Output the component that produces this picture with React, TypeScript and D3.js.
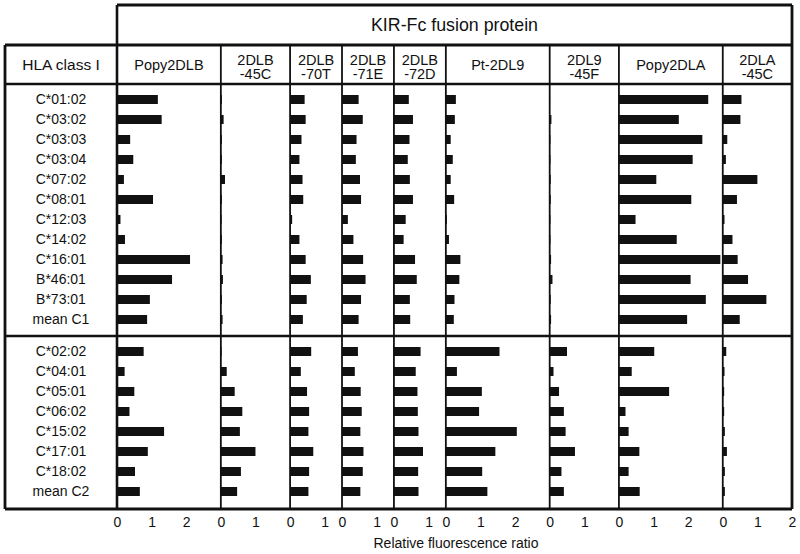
import { useEffect, useRef } from 'react';
import * as d3 from 'd3';

const panels = ['Popy2DLB', '2DLB\n-45C', '2DLB\n-70T', '2DLB\n-71E', '2DLB\n-72D', 'Pt-2DL9', '2DL9\n-45F', 'Popy2DLA', '2DLA\n-45C'];
const panelMax = [3, 2, 1.5, 1.5, 1.5, 3, 2, 3, 2];
const panelTicks = [[0, 1, 2], [0, 1], [0, 1], [0, 1], [0, 1], [0, 1, 2], [0, 1], [0, 1, 2], [0, 1, 2]];

const c1Labels = ['C*01:02', 'C*03:02', 'C*03:03', 'C*03:04', 'C*07:02', 'C*08:01', 'C*12:03', 'C*14:02', 'C*16:01', 'B*46:01', 'B*73:01', 'mean C1'];
const c2Labels = ['C*02:02', 'C*04:01', 'C*05:01', 'C*06:02', 'C*15:02', 'C*17:01', 'C*18:02', 'mean C2'];

// one array per panel, rows in label order
const c1Values = [
  [1.18, 1.29, 0.38, 0.47, 0.2, 1.04, 0.1, 0.23, 2.11, 1.59, 0.95, 0.87],
  [0.03, 0.08, 0.03, 0.03, 0.12, 0.03, 0.02, 0.03, 0.05, 0.06, 0.03, 0.05],
  [0.42, 0.45, 0.33, 0.27, 0.36, 0.38, 0.06, 0.27, 0.45, 0.6, 0.48, 0.37],
  [0.48, 0.6, 0.42, 0.4, 0.52, 0.55, 0.17, 0.33, 0.61, 0.68, 0.55, 0.48],
  [0.43, 0.55, 0.45, 0.4, 0.46, 0.55, 0.34, 0.28, 0.61, 0.66, 0.46, 0.47],
  [0.29, 0.26, 0.14, 0.2, 0.14, 0.24, 0.03, 0.09, 0.42, 0.39, 0.25, 0.23],
  [0.01, 0.05, 0.02, 0.02, 0.03, 0.03, 0.02, 0.02, 0.04, 0.08, 0.03, 0.04],
  [2.58, 1.73, 2.41, 2.13, 1.08, 2.09, 0.48, 1.67, 2.93, 2.07, 2.51, 1.97],
  [0.54, 0.51, 0.13, 0.09, 1.0, 0.41, 0.05, 0.28, 0.43, 0.73, 1.26, 0.49],
];
const c2Values = [
  [0.77, 0.22, 0.5, 0.36, 1.36, 0.89, 0.52, 0.66],
  [0.02, 0.17, 0.4, 0.62, 0.55, 1.0, 0.58, 0.47],
  [0.61, 0.31, 0.49, 0.55, 0.53, 0.67, 0.55, 0.53],
  [0.46, 0.37, 0.54, 0.57, 0.53, 0.62, 0.6, 0.53],
  [0.77, 0.63, 0.68, 0.69, 0.71, 0.84, 0.7, 0.71],
  [1.55, 0.32, 1.04, 0.96, 2.05, 1.43, 1.05, 1.2],
  [0.5, 0.11, 0.27, 0.41, 0.46, 0.73, 0.34, 0.41],
  [1.02, 0.37, 1.45, 0.19, 0.28, 0.59, 0.28, 0.6],
  [0.1, 0.05, 0.04, 0.04, 0.06, 0.12, 0.06, 0.06],
];

const W = 800;
const H = 554;
const font = 'Liberation Sans, Arial, Helvetica, sans-serif';

export default function App() {
  const ref = useRef<SVGSVGElement>(null);

  useEffect(() => {
    const svg = d3.select(ref.current);
    svg.selectAll('*').remove();

    const left = 5, labelRight = 117, right = 792;
    const top = 5, headTop = 45, headBottom = 84, split = 336, bottom = 509;

    // cumulative panel edges on a shared unit width
    const unit = d3.scaleLinear().domain([0, d3.sum(panelMax)]).range([labelRight, right]);
    const cum = [0, ...d3.cumsum(panelMax)];
    const xs = panels.map((_, i) => d3.scaleLinear().domain([0, panelMax[i]]).range([unit(cum[i]), unit(cum[i + 1])]));

    const y1 = d3.scalePoint().domain(c1Labels).range([headBottom + 15.5, split - 16.5]);
    const y2 = d3.scalePoint().domain(c2Labels).range([split + 15.5, bottom - 17.5]);
    const barH = 9;

    const g = svg.append('g');

    // bars
    const drawBars = (labels: string[], values: number[][], y: d3.ScalePoint<string>) => {
      values.forEach((vals, p) => {
        g.append('g')
          .selectAll('rect')
          .data(vals)
          .join('rect')
          .attr('x', xs[p](0))
          .attr('y', (_, i) => (y(labels[i]) as number) - barH / 2)
          .attr('width', (d) => xs[p](d) - xs[p](0))
          .attr('height', barH)
          .attr('fill', '#111');
      });
      g.append('g')
        .selectAll('text')
        .data(labels)
        .join('text')
        .attr('x', (left + labelRight) / 2)
        .attr('y', (d) => y(d) as number)
        .attr('dy', '0.35em')
        .attr('text-anchor', 'middle')
        .style('font-family', font)
        .style('font-size', '14px')
        .attr('fill', '#111')
        .text((d) => d);
    };
    drawBars(c1Labels, c1Values, y1);
    drawBars(c2Labels, c2Values, y2);

    // grid lines
    const line = (x1: number, y1v: number, x2: number, y2v: number, w: number) =>
      g.append('line').attr('x1', x1).attr('y1', y1v).attr('x2', x2).attr('y2', y2v)
        .attr('stroke', '#111').attr('stroke-width', w);

    xs.slice(1).forEach((s) => line(s(0), headTop, s(0), bottom, 1.8));
    line(labelRight, top, labelRight, bottom, 2.6);
    line(labelRight, top, right, top, 2.8);
    line(right, top, right, bottom, 2.8);
    line(left, headTop, right, headTop, 2.8);
    line(left, headTop, left, bottom, 2.8);
    line(left, headBottom, right, headBottom, 2.6);
    line(left, split, right, split, 2.6);
    line(left, bottom, right, bottom, 2.8);

    // headers
    g.append('text')
      .attr('x', (labelRight + right) / 2)
      .attr('y', (top + headTop) / 2)
      .attr('dy', '0.35em')
      .attr('text-anchor', 'middle')
      .style('font-family', font)
      .style('font-size', '17.8px')
      .attr('fill', '#111')
      .text('KIR-Fc fusion protein');

    g.append('text')
      .attr('x', (left + labelRight) / 2)
      .attr('y', (headTop + headBottom) / 2)
      .attr('dy', '0.35em')
      .attr('text-anchor', 'middle')
      .style('font-family', font)
      .style('font-size', '15.5px')
      .attr('fill', '#111')
      .text('HLA class I');

    panels.forEach((name, i) => {
      const parts = name.split('\n');
      const cx = (xs[i].range()[0] + xs[i].range()[1]) / 2;
      const cy = (headTop + headBottom) / 2 + (parts.length > 1 ? 2.5 : 0.5);
      const t = g.append('text')
        .attr('text-anchor', 'middle')
        .style('font-family', font)
        .style('font-size', '14.5px')
        .attr('fill', '#111');
      parts.forEach((p, k) => {
        t.append('tspan')
          .attr('x', cx)
          .attr('y', cy + (k - (parts.length - 1) / 2) * 14.5)
          .attr('dy', '0.35em')
          .text(p);
      });
    });

    // x axes (labels only)
    xs.forEach((s, i) => {
      g.append('g')
        .attr('transform', `translate(0, ${bottom})`)
        .call(d3.axisBottom(s).tickValues(panelTicks[i]).tickSize(0).tickPadding(8).tickFormat(d3.format('d')))
        .call((a) => a.select('.domain').remove())
        .selectAll('text')
        .style('font-family', font)
        .style('font-size', '14px')
        .attr('fill', '#111');
    });

    g.append('text')
      .attr('x', 456)
      .attr('y', 543)
      .attr('dy', '0.35em')
      .attr('text-anchor', 'middle')
      .style('font-family', font)
      .style('font-size', '14px')
      .attr('fill', '#111')
      .text('Relative fluorescence ratio');
  }, []);

  return (
    <div>
      <svg ref={ref} width={W} height={H} style={{ position: 'absolute', left: 0, top: 0, background: '#fff' }} />
    </div>
  );
}
